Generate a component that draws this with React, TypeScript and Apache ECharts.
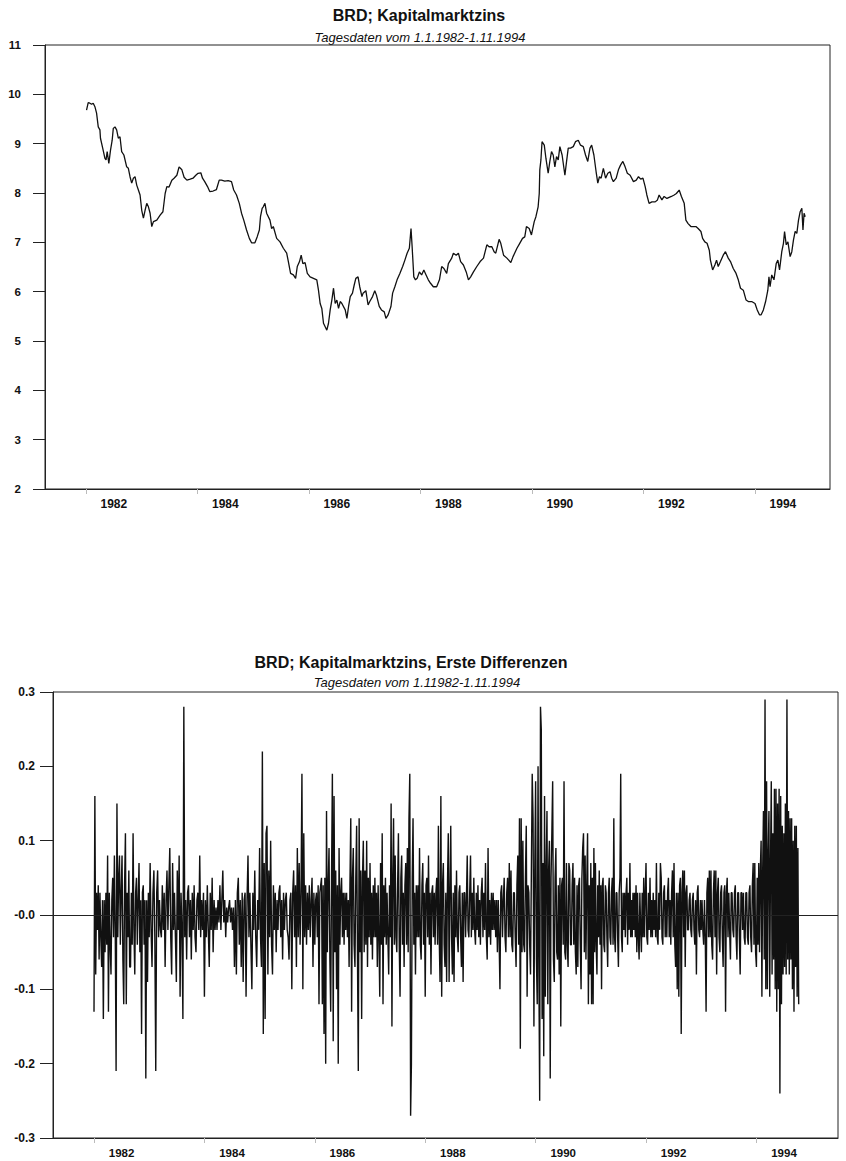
import React, { useEffect, useRef } from "react";
import * as echarts from "echarts";

const FONT = '"Liberation Sans", Arial, Helvetica, sans-serif';

// Titles
const topTitle = "BRD; Kapitalmarktzins";
const topSubtitle = "Tagesdaten vom 1.1.1982-1.11.1994";
const bottomTitle = "BRD; Kapitalmarktzins, Erste Differenzen";
const bottomSubtitle = "Tagesdaten vom 1.11982-1.11.1994";

// Axis ticks / labels (years)
const yearTicks = [1982, 1984, 1986, 1988, 1990, 1992, 1994];
const levelTicks = [2, 3, 4, 5, 6, 7, 8, 9, 10, 11];

// Level of the capital market rate: [decimal year, percent]
const levelObservations: [number, number][] = [
  [1982.01,9.68],[1982.04,9.83],[1982.07,9.82],[1982.10,9.80],[1982.13,9.82],[1982.16,9.75],[1982.19,9.62],[1982.22,9.34],[1982.25,9.28],[1982.26,9.11],
  [1982.30,8.91],[1982.34,8.70],[1982.36,8.67],[1982.38,8.84],[1982.41,8.60],[1982.44,8.87],[1982.47,9.07],[1982.49,9.31],[1982.52,9.34],[1982.55,9.28],
  [1982.58,9.11],[1982.61,9.14],[1982.64,8.84],[1982.68,8.77],[1982.73,8.53],[1982.76,8.50],[1982.79,8.33],[1982.82,8.20],[1982.85,8.30],[1982.88,8.33],
  [1982.91,8.16],[1982.94,8.06],[1982.97,7.96],[1983.00,7.65],[1983.03,7.49],[1983.06,7.65],[1983.09,7.79],[1983.12,7.72],[1983.15,7.59],[1983.18,7.32],
  [1983.21,7.42],[1983.27,7.45],[1983.33,7.55],[1983.38,7.62],[1983.42,7.99],[1983.45,8.13],[1983.49,8.12],[1983.54,8.26],[1983.58,8.30],[1983.63,8.36],
  [1983.67,8.53],[1983.72,8.47],[1983.76,8.32],[1983.81,8.26],[1983.87,8.28],[1983.92,8.30],[1983.97,8.36],[1984.01,8.40],[1984.06,8.41],[1984.09,8.30],
  [1984.13,8.23],[1984.18,8.13],[1984.22,8.03],[1984.28,8.04],[1984.34,8.07],[1984.39,8.26],[1984.43,8.26],[1984.49,8.24],[1984.55,8.25],[1984.61,8.23],
  [1984.65,8.06],[1984.70,7.96],[1984.75,7.79],[1984.79,7.59],[1984.83,7.45],[1984.88,7.25],[1984.93,7.08],[1984.97,6.99],[1985.03,6.99],[1985.07,7.11],
  [1985.11,7.25],[1985.13,7.52],[1985.16,7.69],[1985.18,7.72],[1985.21,7.79],[1985.24,7.59],[1985.30,7.45],[1985.33,7.28],[1985.36,7.32],[1985.42,7.08],
  [1985.48,7.01],[1985.54,6.88],[1985.60,6.78],[1985.63,6.61],[1985.67,6.37],[1985.72,6.34],[1985.76,6.27],[1985.79,6.51],[1985.83,6.61],[1985.86,6.74],
  [1985.89,6.57],[1985.93,6.59],[1985.97,6.37],[1986.02,6.30],[1986.08,6.27],[1986.14,6.24],[1986.17,6.03],[1986.20,5.76],[1986.23,5.66],[1986.26,5.36],
  [1986.29,5.29],[1986.32,5.22],[1986.35,5.36],[1986.38,5.63],[1986.41,5.83],[1986.44,6.07],[1986.47,5.76],[1986.50,5.83],[1986.53,5.66],[1986.56,5.80],
  [1986.59,5.76],[1986.65,5.63],[1986.68,5.46],[1986.71,5.70],[1986.74,5.90],[1986.78,5.97],[1986.81,6.13],[1986.84,6.27],[1986.88,6.30],[1986.91,6.10],
  [1986.95,5.90],[1986.97,5.97],[1987.02,6.02],[1987.06,5.73],[1987.09,5.80],[1987.14,5.90],[1987.18,6.02],[1987.21,5.93],[1987.26,5.70],[1987.30,5.63],
  [1987.35,5.59],[1987.38,5.46],[1987.42,5.53],[1987.47,5.70],[1987.50,5.97],[1987.54,6.10],[1987.58,6.24],[1987.63,6.37],[1987.68,6.51],[1987.72,6.64],
  [1987.76,6.78],[1987.80,6.88],[1987.83,7.28],[1987.85,6.91],[1987.88,6.30],[1987.91,6.24],[1987.94,6.27],[1987.98,6.40],[1988.02,6.34],[1988.06,6.44],
  [1988.10,6.34],[1988.14,6.24],[1988.18,6.17],[1988.23,6.10],[1988.29,6.10],[1988.34,6.24],[1988.38,6.51],[1988.42,6.47],[1988.47,6.37],[1988.50,6.57],
  [1988.56,6.68],[1988.59,6.78],[1988.64,6.74],[1988.68,6.78],[1988.72,6.61],[1988.77,6.54],[1988.82,6.40],[1988.86,6.24],[1988.90,6.30],[1988.95,6.40],
  [1989.01,6.51],[1989.07,6.61],[1989.13,6.68],[1989.19,6.95],[1989.23,6.91],[1989.28,6.91],[1989.32,6.81],[1989.35,6.78],[1989.41,7.06],[1989.44,6.98],
  [1989.49,6.74],[1989.55,6.68],[1989.62,6.59],[1989.66,6.71],[1989.73,6.88],[1989.78,6.98],[1989.83,7.08],[1989.87,7.11],[1989.90,7.32],[1989.95,7.28],
  [1989.99,7.15],[1990.04,7.42],[1990.07,7.52],[1990.11,7.72],[1990.13,7.99],[1990.14,8.47],[1990.16,8.67],[1990.18,9.04],[1990.22,8.97],[1990.25,8.70],
  [1990.29,8.40],[1990.32,8.64],[1990.35,8.84],[1990.38,8.77],[1990.41,8.53],[1990.44,8.74],[1990.47,8.67],[1990.50,8.94],[1990.54,8.77],[1990.59,8.36],
  [1990.62,8.64],[1990.65,8.91],[1990.69,8.91],[1990.74,8.94],[1990.78,9.04],[1990.83,9.07],[1990.87,8.97],[1990.92,8.94],[1990.96,8.77],[1991.00,8.64],
  [1991.04,8.91],[1991.07,8.97],[1991.11,8.77],[1991.15,8.43],[1991.18,8.20],[1991.21,8.33],[1991.24,8.30],[1991.28,8.50],[1991.32,8.30],[1991.36,8.40],
  [1991.40,8.43],[1991.43,8.30],[1991.46,8.23],[1991.51,8.30],[1991.55,8.47],[1991.59,8.57],[1991.63,8.64],[1991.67,8.53],[1991.71,8.40],[1991.76,8.36],
  [1991.82,8.23],[1991.87,8.26],[1991.91,8.33],[1991.95,8.28],[1991.99,8.30],[1992.03,8.13],[1992.06,7.96],[1992.10,7.79],[1992.15,7.82],[1992.21,7.82],
  [1992.25,7.86],[1992.28,7.96],[1992.33,7.86],[1992.37,7.93],[1992.42,7.89],[1992.46,7.91],[1992.50,7.93],[1992.55,7.96],[1992.59,7.99],[1992.64,8.06],
  [1992.68,7.93],[1992.73,7.79],[1992.76,7.45],[1992.80,7.38],[1992.85,7.32],[1992.89,7.32],[1992.94,7.32],[1992.98,7.28],[1993.03,7.22],[1993.06,7.08],
  [1993.10,7.01],[1993.14,6.98],[1993.18,6.84],[1993.20,6.64],[1993.24,6.44],[1993.28,6.54],[1993.31,6.64],[1993.34,6.51],[1993.38,6.61],[1993.43,6.74],
  [1993.47,6.81],[1993.52,6.68],[1993.56,6.61],[1993.61,6.47],[1993.66,6.37],[1993.70,6.24],[1993.74,6.07],[1993.79,6.03],[1993.84,5.83],[1993.88,5.80],
  [1993.94,5.80],[1994.00,5.76],[1994.04,5.63],[1994.08,5.53],[1994.11,5.53],[1994.15,5.63],[1994.19,5.80],[1994.23,6.03],[1994.25,6.30],[1994.27,6.10],
  [1994.30,6.34],[1994.34,6.24],[1994.38,6.57],[1994.41,6.64],[1994.44,6.44],[1994.48,6.81],[1994.51,6.98],[1994.53,7.22],[1994.56,6.95],[1994.59,7.01],
  [1994.63,6.71],[1994.66,6.81],[1994.69,7.05],[1994.72,7.22],[1994.75,7.18],[1994.78,7.45],[1994.81,7.62],[1994.84,7.69],[1994.86,7.25],[1994.88,7.59],
  [1994.90,7.52],
];

// First differences, one array per calendar year (observations spread through the year)
const diff1982 = [-0.13,0.16,-0.08,0.03,-0.02,0.04,-0.06,0.03,-0.03,-0.07,0.02,-0.14,0.02,-0.05,0.03,-0.04,0.08,-0.13,0.03,-0.04,-0.08,0.02,0.05,-0.03,0.08,-0.02,-0.21,0.15,-0.03,0.05,0.08,-0.04,0.03,0.08,-0.06,-0.12,0.04,0.11,-0.12,0.03,-0.03,0.06,-0.07,-0.07,0.03,-0.04,0.11,-0.02,-0.08,0.03,0.05,-0.04,0.02,0.07,-0.05,0.02,-0.16,0.03,0.04,-0.04,0.02,-0.22,0.02,-0.09,0.03];
const diff1983 = [-0.03,0.07,-0.02,-0.07,0.03,0.06,-0.03,-0.21,0.03,0.06,-0.03,0.02,-0.02,-0.03,0.04,-0.02,0.03,-0.07,0.02,0.06,-0.02,0.04,0.09,-0.03,-0.08,0.07,-0.02,0.03,-0.03,-0.09,0.06,-0.02,0.08,-0.11,0.03,-0.02,-0.14,0.28,-0.03,0.02,-0.06,0.03,0.04,-0.03,0.02,-0.06,0.03,-0.02,0.04,-0.03,-0.05,0.02,0.03,-0.02,0.08,-0.03,0.02,-0.02,0.03];
const diff1984 = [-0.11,0.02,-0.03,0.04,-0.02,-0.07,0.03,-0.02,0.05,-0.05,0.02,-0.02,0.01,-0.02,0.02,-0.01,0.04,-0.02,0.02,0.06,-0.01,0.02,-0.03,0.01,-0.01,0.01,0.02,-0.01,0.01,-0.02,0.01,-0.07,0.02,-0.08,0.03,0.05,-0.04,0.02,-0.07,0.03,-0.09,0.02,0.03,-0.11,0.02,0.08,-0.03,0.03,-0.04,-0.10,0.03,-0.02,0.06,-0.03,-0.07,0.02,-0.02];
const diff1985 = [0.09,-0.03,-0.07,0.22,-0.16,0.07,-0.14,0.11,0.12,-0.08,0.06,-0.03,0.10,-0.04,-0.08,0.04,-0.02,0.03,-0.05,0.02,-0.02,0.03,0.04,-0.03,0.02,-0.06,0.03,-0.02,0.02,0.03,-0.02,-0.03,-0.06,0.02,0.03,-0.10,0.03,0.06,-0.03,0.04,-0.07,0.09,-0.03,0.07,-0.04,0.03,0.19,-0.10,0.11,-0.03,0.04,-0.04,0.03,-0.02,0.04,-0.03,0.02,0.05,-0.07,0.03];
const diff1986 = [-0.04,0.02,0.03,-0.03,0.04,-0.12,0.03,0.04,0.05,-0.12,0.04,-0.16,0.05,-0.20,0.14,-0.05,0.04,0.09,-0.06,-0.13,0.05,0.19,-0.17,0.16,-0.05,0.06,-0.10,0.04,-0.20,0.09,-0.04,0.03,0.05,-0.03,0.03,-0.04,0.03,-0.02,0.03,-0.03,0.02,-0.07,0.04,0.13,-0.13,0.05,0.09,-0.04,-0.07,0.05,0.12,-0.05,-0.21,0.13,-0.05,0.06,-0.14,0.05,0.10,-0.05,0.06,-0.04,0.10,-0.07,0.05,-0.03];
const diff1987 = [0.07,-0.04,0.03,-0.06,0.04,-0.03,0.05,-0.03,0.03,-0.07,0.04,-0.03,-0.11,0.07,-0.04,0.11,-0.12,0.04,-0.03,0.05,-0.04,0.03,-0.03,-0.08,0.04,-0.03,0.15,-0.15,0.05,0.13,-0.04,0.08,-0.03,-0.05,0.04,0.11,-0.04,-0.11,0.05,0.08,-0.04,0.03,-0.07,0.04,0.07,-0.04,0.09,-0.05,0.13,0.19,-0.27,-0.20,0.05,0.13,-0.04,0.03,-0.08,0.04,-0.03,0.04,-0.03,0.09,-0.04,-0.06,0.04,0.07,-0.04,0.03];
const diff1988 = [-0.11,0.04,0.05,-0.03,0.08,-0.04,0.03,-0.08,0.03,0.04,-0.03,0.03,-0.04,0.03,0.05,-0.04,0.12,-0.03,-0.09,0.16,-0.11,0.04,0.07,-0.04,-0.07,0.03,-0.09,0.04,0.11,-0.09,0.03,0.12,-0.03,-0.08,0.03,-0.09,0.04,-0.03,0.06,-0.03,-0.05,0.03,0.04,-0.03,-0.07,0.03,-0.09,0.03,0.03,-0.03,0.02,0.08,-0.02,-0.03,0.03,0.08,-0.03,0.03,-0.02,0.05,-0.02,-0.04,0.03,-0.02,0.04,-0.03,0.02];
const diff1989 = [-0.04,0.03,0.05,-0.03,0.03,-0.02,0.07,-0.03,-0.06,0.09,-0.03,0.02,-0.04,0.03,-0.02,0.03,-0.02,0.02,-0.03,0.02,-0.05,0.02,-0.03,-0.10,0.03,0.04,-0.03,0.02,0.05,-0.03,-0.05,0.03,0.05,-0.03,0.07,-0.03,0.06,-0.04,-0.05,0.03,0.03,-0.03,-0.07,0.04,0.08,-0.04,0.13,-0.18,0.13,-0.05,0.10,-0.04,-0.05,0.05,0.12,-0.11,0.04,0.03,-0.04,-0.08,0.06,0.19,0.13,-0.15,0.06];
const diff1990 = [0.18,-0.06,-0.12,0.20,-0.07,-0.25,0.28,0.25,-0.14,0.07,-0.19,0.16,-0.11,0.06,0.14,-0.12,0.06,0.10,-0.22,0.05,0.11,0.18,-0.06,-0.09,0.05,0.09,-0.05,-0.06,0.04,-0.08,0.05,-0.15,0.04,0.05,-0.04,0.18,-0.05,-0.06,0.07,-0.04,-0.07,0.07,0.06,-0.04,-0.04,0.04,0.07,-0.04,0.05,-0.05,-0.08,0.04,-0.07,0.04,0.05,-0.04,-0.10,0.05,0.09,0.11,-0.05,0.08,-0.06,0.04,0.11,-0.12,0.04,-0.08];
const diff1991 = [0.07,-0.12,0.05,-0.12,0.09,-0.05,0.07,-0.04,-0.08,0.04,-0.03,0.06,-0.04,0.04,-0.10,0.04,0.05,-0.04,-0.05,0.04,0.03,-0.03,-0.07,0.03,0.05,-0.03,-0.04,0.03,0.05,-0.04,0.13,-0.03,-0.05,0.03,0.03,-0.03,-0.07,0.03,0.05,0.19,-0.03,-0.05,0.03,-0.02,0.03,-0.03,0.03,0.05,-0.04,0.03,-0.02,0.07,-0.03,0.02,-0.03,0.03,-0.02,0.03,-0.03,0.04,-0.05,0.03,-0.03,-0.06,0.03,-0.02,-0.05,0.03,-0.03,0.05,-0.03,0.03];
const diff1992 = [0.07,-0.03,-0.04,0.03,-0.02,0.05,-0.03,0.02,-0.03,0.03,-0.02,0.02,-0.03,0.07,-0.03,-0.04,0.03,-0.02,0.07,0.05,-0.03,-0.04,0.03,0.04,-0.03,0.02,-0.03,0.03,0.05,-0.03,0.02,-0.04,0.03,0.06,-0.03,0.07,-0.04,-0.07,0.03,-0.10,0.03,-0.11,0.04,0.05,-0.16,0.03,0.06,-0.03,0.06,-0.07,0.03,0.04,-0.02,-0.02,0.02,0.03,-0.02,-0.03,0.02,0.03,-0.02,-0.04,0.02,-0.08,0.03,0.04,-0.02,-0.03,0.02];
const diff1993 = [-0.02,0.02,-0.02,-0.04,0.02,-0.03,-0.13,0.03,0.05,-0.03,0.06,-0.03,0.06,-0.04,-0.06,0.03,0.06,-0.03,0.06,-0.08,0.03,0.05,-0.03,-0.05,0.03,0.04,-0.03,-0.07,0.03,0.04,-0.13,0.03,0.05,-0.03,0.03,-0.02,-0.06,0.03,0.03,-0.02,-0.03,0.03,0.04,-0.03,-0.06,0.03,0.03,-0.03,-0.08,0.03,0.03,-0.02,0.03,-0.03,-0.04,0.03,0.03,-0.03,-0.04,0.03,0.04,-0.03,-0.05,0.04,0.07,-0.04,0.07,-0.05];
const diff1994 = [-0.07,0.05,-0.04,0.07,-0.05,0.06,0.10,-0.11,0.06,0.14,-0.06,0.29,-0.10,0.18,-0.10,0.08,0.14,-0.11,0.07,0.18,-0.08,0.11,-0.06,0.17,-0.10,0.17,-0.13,0.15,-0.10,0.17,-0.24,0.16,-0.12,0.12,-0.08,0.11,-0.07,0.15,-0.08,0.29,-0.06,0.14,-0.08,0.13,-0.06,0.13,-0.10,0.10,-0.13,0.12,-0.07,0.12,-0.11,0.09,-0.12];

// [year, fraction of the year covered, values]
const diffYears: [number, number, number[]][] = [
  [1982, 1, diff1982], [1983, 1, diff1983], [1984, 1, diff1984], [1985, 1, diff1985],
  [1986, 1, diff1986], [1987, 1, diff1987], [1988, 1, diff1988], [1989, 1, diff1989],
  [1990, 1, diff1990], [1991, 1, diff1991], [1992, 1, diff1992], [1993, 1, diff1993],
  [1994, 0.78, diff1994],
];

const INK = "#111";
const FRAME = "#222";

function App() {
  const ref = useRef<HTMLDivElement>(null);

  useEffect(() => {
    if (!ref.current) return;
    const chart = echarts.init(ref.current, undefined, { renderer: "svg" });

    const diffData: [number, number][] = [];
    diffYears.forEach(([y, span, vals]) => {
      vals.forEach((v, i) => diffData.push([y + (i / vals.length) * span, v]));
    });

    const labelValues = yearTicks.map((y) => y + 0.5);

    const xAxisBase = (gridIndex: number, min: number, max: number, fontSize: number) => ({
      gridIndex,
      type: "value",
      min,
      max,
      splitLine: { show: false },
      axisLine: { show: true, onZero: false, lineStyle: { color: FRAME, width: 1 } },
      axisTick: {
        show: true,
        customValues: yearTicks,
        length: 5,
        lineStyle: { color: "#bbb", width: 1 },
      },
      axisLabel: {
        show: true,
        customValues: labelValues,
        formatter: (v: number) => String(Math.floor(v)),
        fontFamily: FONT,
        fontWeight: "bold",
        fontSize,
        color: INK,
        margin: 9,
      },
    });

    const option: any = {
      animation: false,
      backgroundColor: "#ffffff",
      textStyle: { fontFamily: FONT },
      graphic: [
        {
          type: "text",
          x: 419,
          y: 15,
          style: {
            text: topTitle,
            fontFamily: FONT,
            fontWeight: "bold",
            fontSize: 16,
            fill: INK,
            textAlign: "center",
            textVerticalAlign: "middle",
          },
        },
        {
          type: "text",
          x: 420,
          y: 37,
          style: {
            text: topSubtitle,
            fontFamily: FONT,
            fontStyle: "italic",
            fontSize: 13,
            fill: INK,
            textAlign: "center",
            textVerticalAlign: "middle",
          },
        },
        {
          type: "text",
          x: 411,
          y: 662,
          style: {
            text: bottomTitle,
            fontFamily: FONT,
            fontWeight: "bold",
            fontSize: 16,
            fill: INK,
            textAlign: "center",
            textVerticalAlign: "middle",
          },
        },
        {
          type: "text",
          x: 417,
          y: 682,
          style: {
            text: bottomSubtitle,
            fontFamily: FONT,
            fontStyle: "italic",
            fontSize: 13,
            fill: INK,
            textAlign: "center",
            textVerticalAlign: "middle",
          },
        },
      ],
      grid: [
        { left: 45, top: 45, width: 785, height: 444, show: true, borderColor: FRAME, borderWidth: 1, backgroundColor: "transparent" },
        { left: 53, top: 692, width: 785, height: 446, show: true, borderColor: FRAME, borderWidth: 1, backgroundColor: "transparent" },
      ],
      xAxis: [
        xAxisBase(0, 1981.265, 1995.345, 12),
        xAxisBase(1, 1981.257, 1995.478, 11.5),
      ],
      yAxis: [
        {
          gridIndex: 0,
          type: "value",
          min: levelTicks[0],
          max: levelTicks[levelTicks.length - 1],
          interval: 1,
          splitLine: { show: false },
          axisLine: { show: true, lineStyle: { color: FRAME, width: 1 } },
          axisTick: { show: true, length: 12, lineStyle: { color: FRAME, width: 1 } },
          axisLabel: {
            fontFamily: FONT,
            fontWeight: "bold",
            fontSize: 11.5,
            color: INK,
            margin: 24,
          },
        },
        {
          gridIndex: 1,
          type: "value",
          min: -0.3,
          max: 0.3,
          interval: 0.1,
          splitLine: { show: false },
          axisLine: { show: true, lineStyle: { color: FRAME, width: 1 } },
          axisTick: { show: true, length: 13, lineStyle: { color: FRAME, width: 1 } },
          axisLabel: {
            fontFamily: FONT,
            fontWeight: "bold",
            fontSize: 12,
            color: INK,
            margin: 18,
            formatter: (v: number) => (Math.abs(v) < 1e-9 ? "-0.0" : v.toFixed(1)),
          },
        },
      ],
      series: [
        {
          type: "line",
          xAxisIndex: 0,
          yAxisIndex: 0,
          data: levelObservations,
          symbol: "none",
          showSymbol: false,
          lineStyle: { color: INK, width: 1.3 },
          silent: true,
        },
        {
          type: "line",
          xAxisIndex: 1,
          yAxisIndex: 1,
          data: diffData,
          symbol: "none",
          showSymbol: false,
          lineStyle: { color: INK, width: 1.4 },
          silent: true,
          markLine: {
            silent: true,
            symbol: ["none", "none"],
            label: { show: false },
            lineStyle: { color: FRAME, type: "solid", width: 1 },
            data: [{ yAxis: 0 }],
            animation: false,
          },
        },
      ],
    };

    chart.setOption(option);
    return () => {
      chart.dispose();
    };
  }, []);

  return (
    <div
      ref={ref}
      style={{ position: "absolute", left: 0, top: 0, width: 846, height: 1161, background: "#fff" }}
    />
  );
}

export default App;
